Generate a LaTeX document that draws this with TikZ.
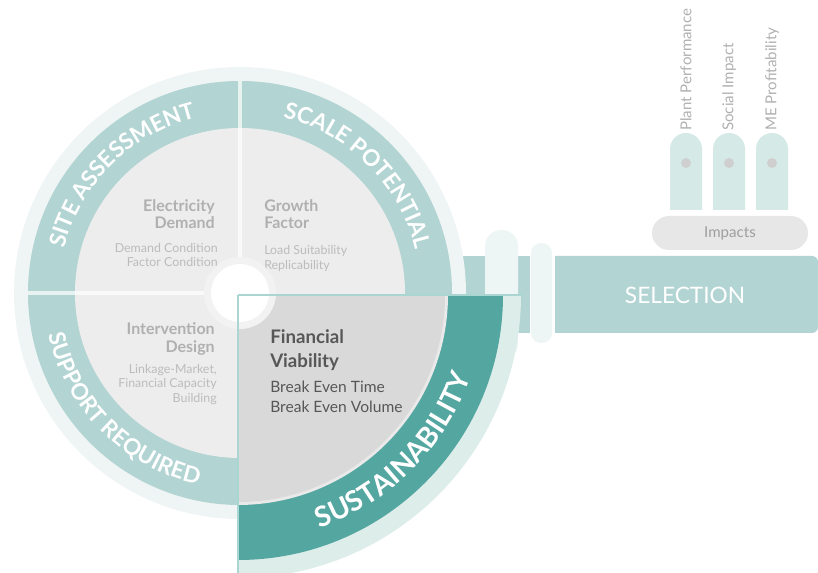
\documentclass[tikz,border=0pt]{standalone}
\usepackage{fontspec}
\setmainfont{Lato}
\usetikzlibrary{decorations.text, positioning, calc}
\definecolor{cteal}{HTML}{B2D4D3}
\definecolor{cpale}{HTML}{EEF5F4}
\definecolor{cgreyfill}{HTML}{EDEDED}
\definecolor{ctitle}{HTML}{B0B0B0}
\definecolor{csub}{HTML}{BCBCBC}
\definecolor{cdeep}{HTML}{54A6A1}
\definecolor{cmint}{HTML}{DCEDEA}
\definecolor{cmid}{HTML}{D9D9D9}
\definecolor{cgap}{HTML}{E9E9E9}
\definecolor{cdark}{HTML}{575757}
\definecolor{cmist}{HTML}{EEF5F5}
\definecolor{cpill}{HTML}{D5EAE7}
\definecolor{cdot}{HTML}{CFCFCF}
\definecolor{cimpact}{HTML}{E7E7E7}
\definecolor{cglow}{HTML}{F2F2F2}
\definecolor{cframe}{HTML}{A9D6D1}
\tikzset{
  every picture/.style={x=0.75pt, y=0.75pt},
  ringtext/.style={decorate, decoration={text along path, text align=center, text color=white,
    text={|\fontsize{17}{17}\selectfont\bfseries|#1}}},
  bigringtext/.style={decorate, decoration={text along path, text align=center, text color=white,
    text={|\fontsize{21}{21}\selectfont\bfseries|#1}}},
  divider/.style={draw=white, line width=3.5pt, opacity=0.7},
  frame/.style={draw=cframe, line width=0.8pt},
  qtitle/.style={font=\fontsize{12}{13.3}\selectfont\bfseries, text=ctitle, inner sep=0pt},
  qsub/.style={font=\fontsize{9.3}{11.2}\selectfont, text=csub, inner sep=0pt},
  label/.style={font=\fontsize{11.3}{13}\selectfont, text=ctitle, inner sep=0pt},
}
\begin{document}
\begin{tikzpicture}
  \useasboundingbox (0,0) rectangle (818,-573);
  \coordinate (hub) at (240,-293);
  \coordinate (corner) at (238,-295);
  % link to selection
  \fill[cteal] (452,-256) rectangle (530,-333);
  \fill[cmist, rounded corners=12pt] (485,-230) rectangle (518,-360);
  \fill[cmist, rounded corners=7.5pt] (531,-243) rectangle (552,-343);
  \fill[cteal] (555,-256) -- (812,-256) arc[start angle=90, end angle=0, radius=6]
    -- (818,-327) arc[start angle=0, end angle=-90, radius=6] -- (555,-333) -- cycle;
  \node[font=\fontsize{17}{19}\selectfont, text=white] (selection) at (685,-295) {SELECTION};
  % impacts
  \fill[cimpact, rounded corners=12.75pt] (652,-216) rectangle (808,-250);
  \node[label, text=ctitle!90!black] (impacts) at (730,-233) {Impacts};
  \foreach \px/\lbl/\nm in {686/Plant Performance/plant, 729/Social Impact/social, 772/ME Profitability/profit} {
    \fill[cpill] (\px-16,-210) -- (\px-16,-149) arc[start angle=180, end angle=0, radius=16] -- (\px+16,-210) -- cycle;
    \fill[cdot] (\px,-163) circle[radius=5];
    \node[label, rotate=90, anchor=west] (\nm) at (\px,-131) {\lbl};
  }
  % main circle
  \fill[cpale] (hub) circle[radius=226];
  \fill[cteal] (hub) circle[radius=212];
  \fill[cgreyfill] (hub) circle[radius=165];
  \draw[divider] (hub) -- ++(0,212);
  \draw[divider] (hub) -- ++(-212,0);
  \path[ringtext={SITE ASSESSMENT}] (hub) ++(180:181) arc[start angle=180, end angle=90, radius=181];
  \path[ringtext={SCALE POTENTIAL}] (hub) ++(90:181) arc[start angle=90, end angle=0, radius=181];
  \path[ringtext={SUPPORT REQUIRED}] (hub) ++(180:196) arc[start angle=180, end angle=270, radius=196];
  \node[qtitle, align=right, anchor=east] (elec) at (215,-214) {Electricity\\Demand};
  \node[qsub, align=right, anchor=east] (elecsub) at (218,-255) {Demand Condition\\Factor Condition};
  \node[qtitle, align=left, anchor=west] (growth) at (264,-214) {Growth\\Factor};
  \node[qsub, align=left, anchor=west] (growthsub) at (264,-258.5) {Load Suitability\\Replicability};
  \node[qtitle, align=right, anchor=east] (interv) at (215,-339) {Intervention\\Design};
  \node[qsub, align=right, anchor=east] (intervsub) at (217,-384.5) {Linkage-Market,\\Financial Capacity\\Building};
  % sustainability
  \fill[cmint] (corner) -- ++(0:283) arc[start angle=0, end angle=-90, radius=283] -- cycle;
  \fill[cdeep] (corner) -- ++(0:265) arc[start angle=0, end angle=-90, radius=265] -- cycle;
  \fill[cgap] (corner) -- ++(0:210) arc[start angle=0, end angle=-90, radius=210] -- cycle;
  \fill[cmid] (corner) -- ++(0:207) arc[start angle=0, end angle=-90, radius=207] -- cycle;
  \path[bigringtext={SUSTAINABILITY}] (corner) ++(270:247) arc[start angle=270, end angle=360, radius=247];
  \fill[cglow] (hub) circle[radius=36];
  \fill[white] (hub) circle[radius=29];
  \draw[frame] (corner) -- ++(285,0);
  \draw[frame] (corner) -- ++(0,-280);
  \node[font=\fontsize{14}{18}\selectfont\bfseries, text=cdark, align=left, anchor=west, inner sep=0pt] (finv) at (270,-350) {Financial\\Viability};
  \node[font=\fontsize{11.7}{15}\selectfont, text=cdark, align=left, anchor=west, inner sep=0pt] (breakeven) at (270,-397) {Break Even Time\\Break Even Volume};
\end{tikzpicture}
\end{document}
